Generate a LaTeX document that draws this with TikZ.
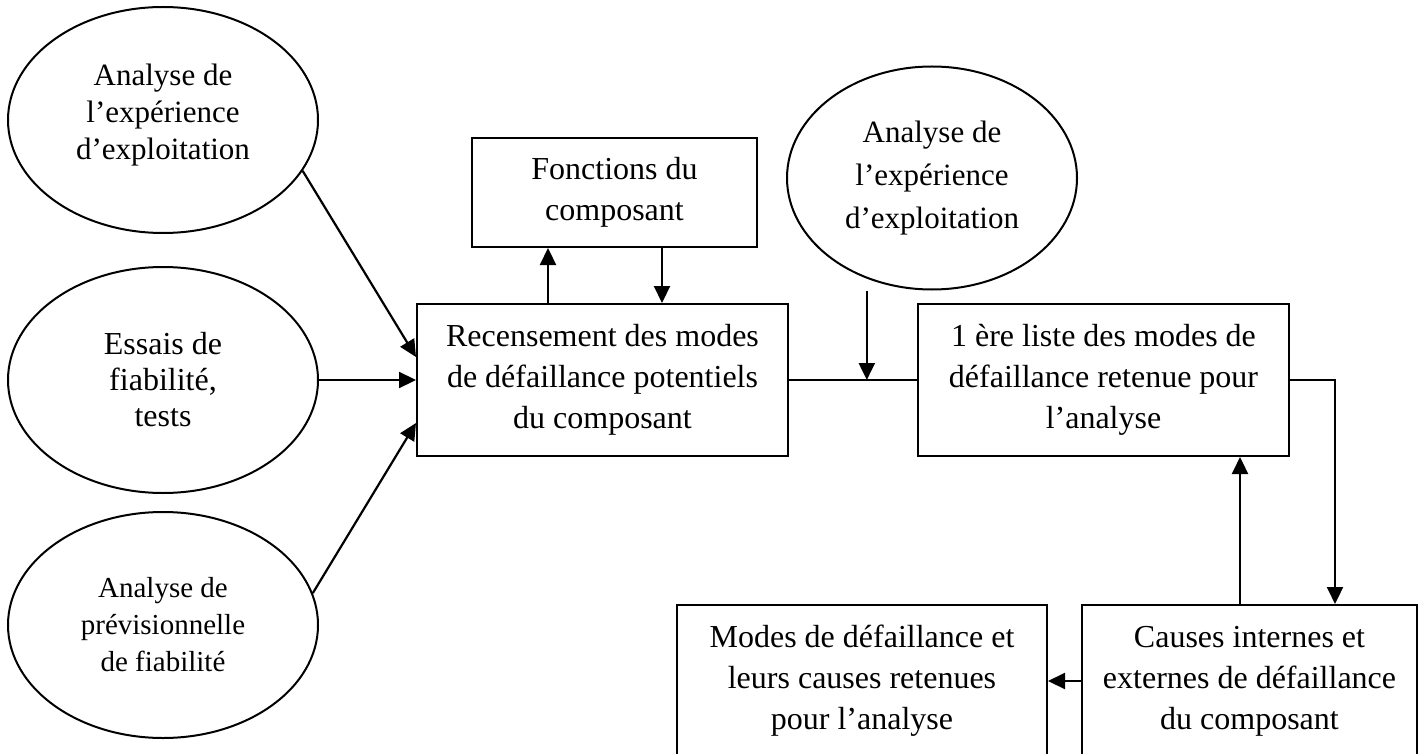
\documentclass[tikz,border=0pt]{standalone}
\usepackage{fontspec}
\setmainfont{Liberation Serif}
\usetikzlibrary{arrows.meta,shapes.geometric}
\begin{document}
\begin{tikzpicture}[x=0.5pt,y=-0.5pt,line width=1pt,
  box/.style={draw,rectangle,inner sep=0pt,align=center,font=\fontsize{16}{20.5}\selectfont},
  ell/.style={draw,ellipse,inner sep=0pt,align=center,minimum width=155pt,minimum height=113pt},
  arr/.style={line width=1.1pt,-{Triangle[length=8.5pt,width=8pt]}}]
\useasboundingbox (0,0) rectangle (1423,754);
% ellipses
\node[ell,font=\fontsize{15.5}{18.5}\selectfont] (e1) at (163,120) {Analyse de\\l’expérience\\d’exploitation\rule[-8pt]{0pt}{1pt}};
\node[ell,font=\fontsize{16}{18}\selectfont] (e2) at (163,380) {Essais de\\fiabilité,\\tests};
\node[ell,font=\fontsize{14.5}{18.5}\selectfont] (e3) at (163,625) {Analyse de\\prévisionnelle\\de fiabilité};
\node[ell,minimum width=145pt,minimum height=111.5pt,font=\fontsize{15.5}{21.5}\selectfont] (e4) at (932,178) {Analyse de\\l’expérience\\d’exploitation};
% boxes
\node[box,minimum width=142.5pt,minimum height=54.5pt] (fon) at (614.5,192.5) {Fonctions du\\composant};
\node[box,minimum width=185.5pt,minimum height=76pt] (rec) at (602.5,380) {Recensement des modes\\de défaillance potentiels\\du composant};
\node[box,minimum width=185.5pt,minimum height=76pt] (lis) at (1103.5,380) {1 ère liste des modes de\\défaillance retenue pour\\l’analyse};
\node[box,minimum width=185pt,minimum height=76pt] (mod) at (862,681) {Modes de défaillance et\\leurs causes retenues\\pour l’analyse};
\node[box,minimum width=167.5pt,minimum height=76pt] (cau) at (1249.5,681) {Causes internes et\\externes de défaillance\\du composant};
% connectors
\draw[arr] (e1.-20) -- ([yshift=11.5pt]rec.west);
\draw[arr] (e2.east) -- (rec.west);
\draw[arr] (e3.12) -- ([yshift=-21.5pt]rec.west);
\coordinate (u1) at ([xshift=-27.25pt]rec.north);
\draw[arr] (u1) -- (u1 |- fon.south);
\coordinate (d1) at ([xshift=23.75pt]fon.south);
\draw[arr] (d1) -- (d1 |- rec.north);
\draw (rec.east) -- coordinate[pos=0.608] (j) (lis.west);
\draw[arr] (j |- e4.south) -- (j);
\draw[arr] (lis.east) -| ([xshift=42.75pt]cau.north);
\coordinate (u2) at ([xshift=-4.75pt]cau.north);
\draw[arr] (u2) -- (u2 |- lis.south);
\draw[arr] (cau.west) -- (mod.east);
\end{tikzpicture}
\end{document}
